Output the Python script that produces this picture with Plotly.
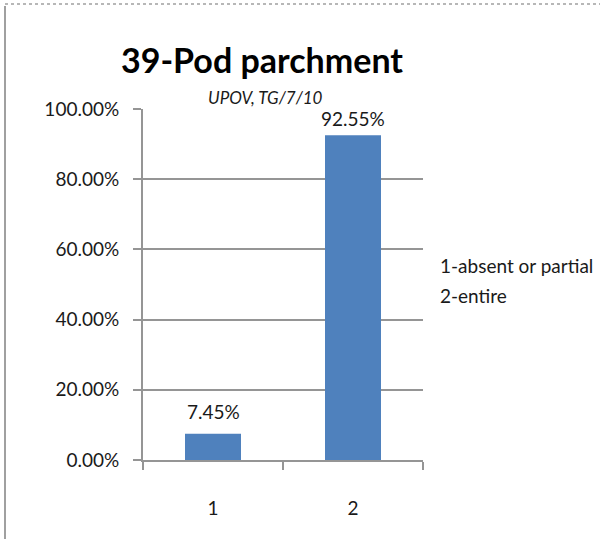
import plotly.graph_objects as go

categories = ["1", "2"]
values = [7.45, 92.55]
labels = ["7.45%", "92.55%"]
y_ticks = [0, 20, 40, 60, 80, 100]
y_tick_labels = ["0.00%", "20.00%", "40.00%", "60.00%", "80.00%", "100.00%"]
legend_lines = ["1-absent or partial", "2-entire"]
label_shift = [22, 17]

W, H = 600, 539
L, R, T, B = 143, 177, 109, 79
pw, ph = W - L - R, H - T - B
FONT = "Lato, sans-serif"
TXT = "#1a1a1a"
GRID = "#959595"

def px(x):
    return (x - L) / pw

def py(y):
    return (H - B - y) / ph

fig = go.Figure()
fig.add_trace(go.Bar(
    x=categories, y=values, width=0.4,
    marker=dict(color="#4F81BD", line=dict(width=0)),
    hoverinfo="skip",
))

# category positions are indices on a category axis
for i, (v, t, s) in enumerate(zip(values, labels, label_shift)):
    fig.add_annotation(x=i, y=v, text=t, showarrow=False, yanchor="middle",
                       yshift=s, font=dict(family=FONT, size=19, color=TXT))

fig.update_layout(
    width=W, height=H,
    margin=dict(l=L, r=R, t=T, b=B),
    paper_bgcolor="white", plot_bgcolor="white",
    showlegend=False,
    font=dict(family=FONT, color=TXT),
)
fig.update_yaxes(
    range=[0, 100], tickvals=y_ticks, ticktext=y_tick_labels,
    showgrid=True, gridcolor=GRID, gridwidth=1.5,
    showline=True, linecolor=GRID, linewidth=2,
    ticks="outside", ticklen=8, tickcolor=GRID, tickwidth=1.5,
    tickfont=dict(size=19, color=TXT), zeroline=False,
    ticklabelstandoff=10,
)
fig.update_xaxes(
    type="category", range=[-0.5, len(categories) - 0.5],
    showline=True, linecolor=GRID, linewidth=2,
    ticks="outside", ticklen=8, tickcolor=GRID, tickwidth=1.5,
    tickson="boundaries",
    tickfont=dict(size=19, color=TXT),
    ticklabelstandoff=30,
)

fig.add_annotation(text="<b>39-Pod parchment</b>", xref="paper", yref="paper",
                   x=px(262), y=py(60), xanchor="center", yanchor="middle", showarrow=False,
                   font=dict(size=34, color="black", family=FONT))
fig.add_annotation(text="<i>UPOV, TG/7/10</i>", xref="paper", yref="paper",
                   x=px(265), y=py(98), xanchor="center", yanchor="middle", showarrow=False,
                   font=dict(size=17, color=TXT, family=FONT))
for i, line in enumerate(legend_lines):
    fig.add_annotation(text=line, xref="paper", yref="paper",
                       x=px(438), y=py(265 + 30 * i), xanchor="left", yanchor="middle",
                       showarrow=False,
                       font=dict(size=19, color=TXT, family=FONT))

# outer chart frame
fig.add_shape(type="line", xref="paper", yref="paper",
              x0=px(5), x1=px(5), y0=py(6), y1=py(539), line=dict(color="#a0a0a0", width=2))
fig.add_shape(type="line", xref="paper", yref="paper",
              x0=px(5), x1=px(600), y0=py(4), y1=py(4), line=dict(color="#a0a0a0", width=1.5, dash="dot"))

fig.write_html("out.html", config={"displayModeBar": False},
               post_script="document.body.style.margin='0';document.body.style.overflow='hidden';")
